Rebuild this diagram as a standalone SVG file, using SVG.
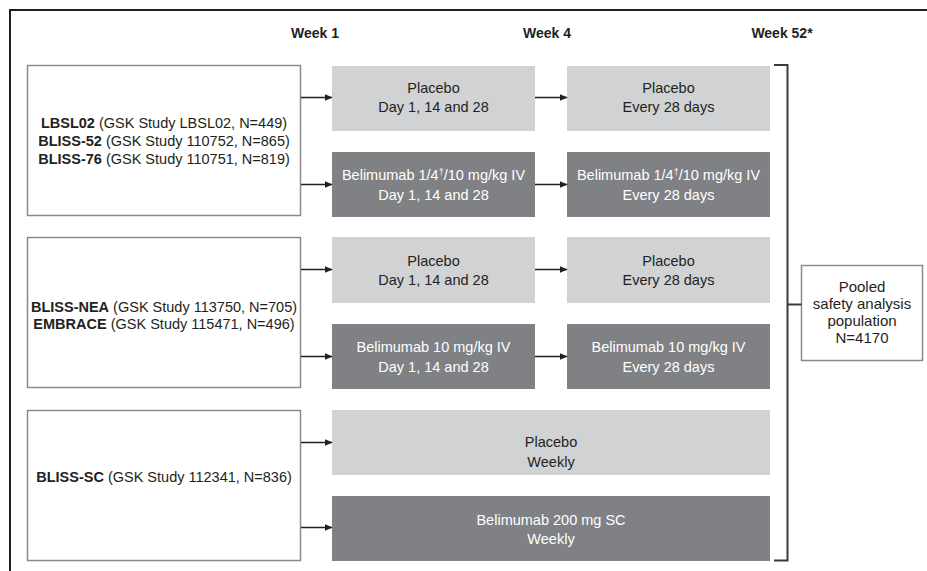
<svg xmlns="http://www.w3.org/2000/svg" width="927" height="571" viewBox="0 0 927 571">
<style>
text{font-family:"Liberation Sans",Arial,sans-serif;font-size:14.5px;text-anchor:middle;fill:#231f20}
.b{font-weight:bold}
.wk{font-weight:bold;font-size:14px}
.pl{font-size:15px}
.study{fill:#fff;stroke:#8a8a8a;stroke-width:1.5}
.lt{fill:#d1d2d4}
.dk{fill:#808184}
text.w{fill:#fff}
.ln{stroke:#231f20;stroke-width:1.5;fill:none}
.br{stroke:#3a3a3a;stroke-width:2;fill:none}
</style>
<defs>
<marker id="ah" markerWidth="8" markerHeight="8" refX="7" refY="4" orient="auto" markerUnits="userSpaceOnUse">
<path d="M0,0.8 L7.5,4 L0,7.2 Z" fill="#231f20"/>
</marker>
</defs>
<rect width="927" height="571" fill="#fff"/>
<path d="M10,571 L10,10 L927,10" stroke="#231f20" stroke-width="2" fill="none"/>
<g id="headers">
<text class="wk" x="315" y="38">Week 1</text>
<text class="wk" x="547" y="38">Week 4</text>
<text class="wk" x="782" y="38">Week 52*</text>
</g>
<g id="study1">
<rect class="study" x="27.5" y="65.5" width="273" height="150"/>
<text x="164" y="128"><tspan class="b">LBSL02</tspan> (GSK Study LBSL02, N=449)</text>
<text x="164" y="146"><tspan class="b">BLISS-52</tspan> (GSK Study 110752, N=865)</text>
<text x="164" y="164"><tspan class="b">BLISS-76</tspan> (GSK Study 110751, N=819)</text>
</g>
<g id="study2">
<rect class="study" x="27.5" y="237.5" width="273" height="150"/>
<text x="164" y="312"><tspan class="b">BLISS-NEA</tspan> (GSK Study 113750, N=705)</text>
<text x="164" y="329"><tspan class="b">EMBRACE</tspan> (GSK Study 115471, N=496)</text>
</g>
<g id="study3">
<rect class="study" x="27.5" y="410.5" width="273" height="150"/>
<text x="164" y="482"><tspan class="b">BLISS-SC</tspan> (GSK Study 112341, N=836)</text>
</g>
<g id="p1a"><rect class="lt" x="332" y="66" width="203" height="65"/>
<text x="433.5" y="93">Placebo</text><text x="433.5" y="112">Day 1, 14 and 28</text></g>
<g id="p1b"><rect class="lt" x="567" y="66" width="203" height="65"/>
<text x="668.5" y="93">Placebo</text><text x="668.5" y="112">Every 28 days</text></g>
<g id="b1a"><rect class="dk" x="332" y="152" width="203" height="65"/>
<text class="w" x="433.5" y="180">Belimumab 1/4<tspan font-size="9" dy="-5">†</tspan><tspan dy="5">/10 mg/kg IV</tspan></text><text class="w" x="433.5" y="200">Day 1, 14 and 28</text></g>
<g id="b1b"><rect class="dk" x="567" y="152" width="203" height="65"/>
<text class="w" x="668.5" y="180">Belimumab 1/4<tspan font-size="9" dy="-5">†</tspan><tspan dy="5">/10 mg/kg IV</tspan></text><text class="w" x="668.5" y="200">Every 28 days</text></g>
<g id="p2a"><rect class="lt" x="332" y="237" width="203" height="66"/>
<text x="433.5" y="266">Placebo</text><text x="433.5" y="285">Day 1, 14 and 28</text></g>
<g id="p2b"><rect class="lt" x="567" y="237" width="203" height="66"/>
<text x="668.5" y="266">Placebo</text><text x="668.5" y="285">Every 28 days</text></g>
<g id="b2a"><rect class="dk" x="332" y="324" width="203" height="65"/>
<text class="w" x="433.5" y="352">Belimumab 10 mg/kg IV</text><text class="w" x="433.5" y="372">Day 1, 14 and 28</text></g>
<g id="b2b"><rect class="dk" x="567" y="324" width="203" height="65"/>
<text class="w" x="668.5" y="352">Belimumab 10 mg/kg IV</text><text class="w" x="668.5" y="372">Every 28 days</text></g>
<g id="p3"><rect class="lt" x="332" y="410" width="438" height="65"/>
<text x="551" y="447">Placebo</text><text x="551" y="467">Weekly</text></g>
<g id="b3"><rect class="dk" x="332" y="496" width="438" height="65"/>
<text class="w" x="551" y="525">Belimumab 200 mg SC</text><text class="w" x="551" y="544">Weekly</text></g>
<g id="pooled">
<rect class="study" x="801.5" y="265.5" width="121" height="95"/>
<text class="pl" x="862" y="292">Pooled</text>
<text class="pl" x="862" y="309">safety analysis</text>
<text class="pl" x="862" y="326">population</text>
<text class="pl" x="862" y="343">N=4170</text>
</g>
<g id="connectors">
<line class="ln" x1="301" y1="97.5" x2="332" y2="97.5" marker-end="url(#ah)"/>
<line class="ln" x1="301" y1="184.5" x2="332" y2="184.5" marker-end="url(#ah)"/>
<line class="ln" x1="535" y1="97.5" x2="567" y2="97.5" marker-end="url(#ah)"/>
<line class="ln" x1="535" y1="184.5" x2="567" y2="184.5" marker-end="url(#ah)"/>
<line class="ln" x1="301" y1="269.5" x2="332" y2="269.5" marker-end="url(#ah)"/>
<line class="ln" x1="301" y1="356.5" x2="332" y2="356.5" marker-end="url(#ah)"/>
<line class="ln" x1="535" y1="269.5" x2="567" y2="269.5" marker-end="url(#ah)"/>
<line class="ln" x1="535" y1="356.5" x2="567" y2="356.5" marker-end="url(#ah)"/>
<line class="ln" x1="301" y1="442.5" x2="332" y2="442.5" marker-end="url(#ah)"/>
<line class="ln" x1="301" y1="527.5" x2="332" y2="527.5" marker-end="url(#ah)"/>
<path class="br" d="M774,65 L787.5,65 L787.5,560.5 L774,560.5"/>
<line class="br" x1="787.5" y1="304.5" x2="801.5" y2="304.5"/>
</g>
</svg>
